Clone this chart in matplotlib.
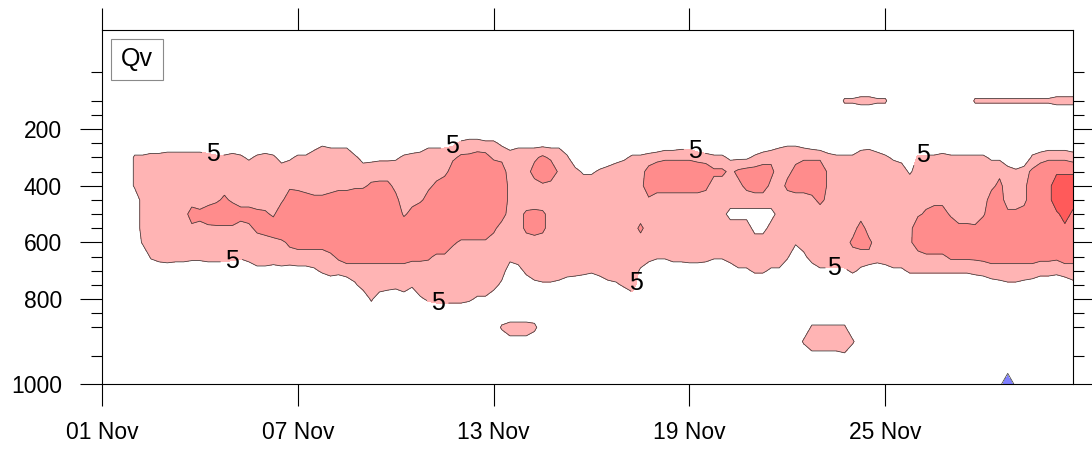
import numpy as np
import pandas as pd
import matplotlib
matplotlib.use("Agg")
import matplotlib.pyplot as plt
import matplotlib.dates as mdates
from matplotlib.patches import Rectangle
from matplotlib.ticker import FixedLocator

plt.rcParams['font.family'] = ['Liberation Sans', 'DejaVu Sans']

# Pressure levels of the vertical grid (hPa), from the surface upward
PRESSURE_LEVELS = [1000, 975, 950, 925, 900, 850, 800, 750, 700, 650, 600, 550,
                   500, 450, 400, 350, 300, 250, 200, 150, 100, 70, 50, 30, 20, 10]

# 6-hourly times, 01 Nov 00Z .. 30 Nov 18Z
TIMES = pd.date_range("2017-11-01 00:00", periods=120, freq="6h")

# Qv profiles, one string per time step, characters from 1000 hPa up to 100 hPa
# (levels above 100 hPa are zero).  Digits are literal values; letters and '-'
# are decoded with QV_CODE.
QV_PROFILES = [
    "000000000000000000000", "000000000000000000000", "000000000000000000000",
    "000000000000000000000", "000000000000006660000", "000000000068888860000",
    "000000000688888870000", "000000000888888870000", "000000000988888880000",
    "000000000888888880000", "000000000889888880000", "000000000789c88880000",
    "000000000789b88880000", "000000000889d88870000", "000000000889e98860000",
    "000000000889eb8860000", "000000000789e98870000", "000000000688c88860000",
    "000000000889c88940000", "00000000398bb88860000", "00000000398cb78870000",
    "00000000298e988860000", "00000000399ge98830000", "0000000038bged9940000",
    "0000000039bggc9860000", "0000000039bggb9860000", "0000000049bggb8891000",
    "0000000069bggb8894000", "0000000089dggb9893000", "000000007bgggc9893000",
    "000000009bgggc9893000", "000000049bggge9860000", "000000089bgggg9830000",
    "000000699bggggb740000", "000000199bggggb840000", "000000089bggggb840000",
    "000000079bgggb9940000", "000000199bgg988860000", "000000068bggc88870000",
    "000000498bggg98880000", "000000697bgggc9893000", "0000007989ggggb893000",
    "0000007989gggge893000", "0000007987bggggd94000", "00000079889gggggb6000",
    "00000069889gggggb7000", "00000049889gggggc7000", "00000049889gggggc6000",
    "00000008988bgggg96000", "000060039888cggc94000", "000380000888888891000",
    "000380002988888893000", "00038000788bb78893000", "00007003988cc68c93000",
    "00000004988bb79gb3000", "000000049888888e93000", "000000039888888993000",
    "000000009888888860000", "000000008888888700000", "000000007888889400000",
    "000000006888889400000", "000000008888888600000", "000000039888888800000",
    "000000049888888830000", "000000069888888940000", "000000199888888860000",
    "00000000498b888860000", "00000000088889ec70000", "00000000068888ce80000",
    "00000000068888ce91000", "00000000088888ce91000", "00000000088888ce92000",
    "00000000098888ce92000", "00000000098888ce80000", "00000000088888be70000",
    "000000000688888b60000", "000000000688788b60000", "000000000988388940000",
    "000000004988389b40000", "00000000498838bc40000", "00000000698338cc60000",
    "00000000698338cc80000", "000000004987389b91000", "000000004988788893000",
    "00000000068888b994000", "00000000006888cb94000", "00060000039888ce93000",
    "00396000098889ce92000", "0039600049888bee91000", "003960004988899970000",
    "003960004988888860000", "004960004988888860006", "0006000068b8888860006",
    "0000000048cc888891007", "0000000029b8888892007", "000000000988888880006",
    "000000002988888860006", "000000004988888940000", "000000004988888830000",
    "000000006898889400000", "0000000068dg988860000", "0000000069ggb88860000",
    "0000000069ggd88860000", "0000000069ggd88870000", "000000006bgg988860000",
    "000000006bgb888860000", "000000006bgb888860000", "000000007bgb788860006",
    "000000008bgg988860006", "000000029bgggc9940006", "000000039bgggcb940006",
    "-00000049bggb88800006", "000000049bggb88600006", "000000039bggd88800006",
    "000000029bgggggb60006", "000000008bgggggd80006", "000000008bgggdde91006",
    "000000007bggeyye91007", "000000009bgexyye91007", "000000039bggexye80007",
]
QV_CODE = {'-': -20.0, 'b': 11.0, 'c': 12.0, 'd': 13.0, 'e': 14.0, 'g': 14.6,
           'x': 17.0, 'y': 19.0}

CONTOUR_LEVELS = [-5, 10, 15]
LABELLED_LEVEL = 5
FILL_BOUNDS = [-40, -5, 5, 10, 15, 40]
FILL_COLORS = ['#8080ff', '#ffffff', '#ffb4b4', '#ff8c8c', '#ff5a5a']

MAJOR_PRESSURE = [200, 400, 600, 800, 1000]
MINOR_PRESSURE = [950, 900, 850, 750, 700, 650, 550, 500, 450, 350, 300, 250,
                  150, 100, 50]
DATE_TICKS = ["2017-11-01", "2017-11-07", "2017-11-13", "2017-11-19", "2017-11-25"]

# where the "5" labels sit: (days after 01 Nov, level index)
LABEL_SPOTS = [(3.40, 16.3), (3.93, 9.25), (10.74, 16.5), (10.28, 5.6),
               (18.13, 16.3), (16.38, 7.1), (25.15, 16.2), (22.42, 8.2)]

# ---- build the field ------------------------------------------------------
nlev = len(PRESSURE_LEVELS)
qv = np.zeros((nlev, len(TIMES)))
for j, prof in enumerate(QV_PROFILES):
    if len(prof) != 21:
        raise ValueError(f"profile {j} has {len(prof)} levels")
    for i, ch in enumerate(prof):
        qv[i, j] = QV_CODE[ch] if ch in QV_CODE else float(ch)

x = mdates.date2num(TIMES.to_pydatetime())
y = np.arange(nlev)

# ---- figure -----------------------------------------------------------------
W, H = 1092, 450
fig = plt.figure(figsize=(W / 100, H / 100), dpi=100)
ax = fig.add_axes([102 / W, (H - 384) / H, 971 / W, 354 / H])

line_kw = dict(colors='#3a3a3a', linewidths=0.55, linestyles='solid')
ax.contourf(x, y, qv, levels=FILL_BOUNDS, colors=FILL_COLORS)
ax.contour(x, y, qv, levels=CONTOUR_LEVELS, **line_kw)
cs5 = ax.contour(x, y, qv, levels=[LABELLED_LEVEL], **line_kw)
spots = [(x[0] + d, lv) for d, lv in LABEL_SPOTS]
labels = ax.clabel(cs5, manual=spots, fmt='%d', fontsize=18, colors='black',
                   inline=True, inline_spacing=4)
for t in labels:
    t.set_rotation(0)

ax.set_xlim(x[0], x[-1])
ax.set_ylim(0, nlev - 1)

ax.xaxis.set_major_locator(FixedLocator(mdates.date2num(pd.to_datetime(DATE_TICKS).to_pydatetime())))
ax.xaxis.set_major_formatter(mdates.DateFormatter('%d %b'))
ax.set_yticks([PRESSURE_LEVELS.index(p) for p in MAJOR_PRESSURE])
ax.set_yticklabels([str(p) for p in MAJOR_PRESSURE])
ax.set_yticks([PRESSURE_LEVELS.index(p) for p in MINOR_PRESSURE], minor=True)

ax.tick_params(which='major', direction='out', length=15.8, width=0.8,
               labelsize=16.5, top=True, right=True, colors='black')
ax.tick_params(axis='x', pad=11)
ax.tick_params(axis='y', pad=13)
ax.tick_params(axis='y', which='minor', direction='out', length=8, width=0.8,
               left=True, right=True)
for sp in ax.spines.values():
    sp.set_linewidth(0.8)

# panel title box
ax.add_patch(Rectangle((9 / 971, 0.859), 52 / 971, 41 / 354, transform=ax.transAxes,
                       facecolor='white', edgecolor='#8a8a8a', linewidth=0.8, zorder=5))
ax.text(35 / 971, 0.9167, 'Qv', transform=ax.transAxes, fontsize=18,
        ha='center', va='center', zorder=6)

fig.savefig('out.png', dpi=100)
